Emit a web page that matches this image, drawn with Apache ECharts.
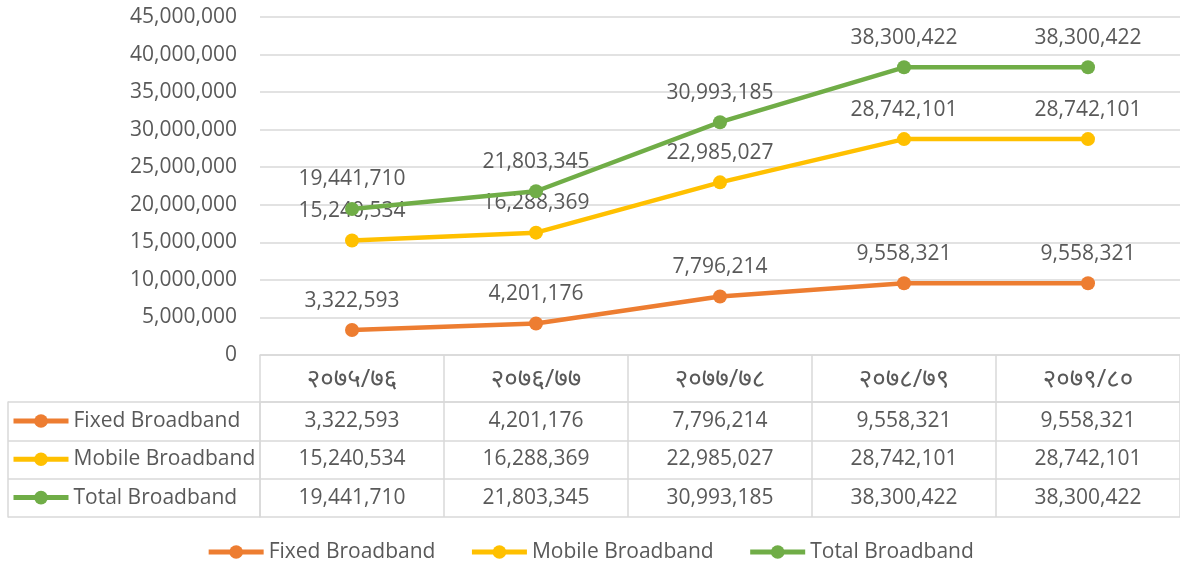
<!DOCTYPE html>
<html>
<head>
<meta charset="utf-8">
<script src="https://cdn.jsdelivr.net/npm/echarts@6/dist/echarts.min.js"></script>
<style>
  html, body { margin: 0; padding: 0; background: #fff; }
  #chart { width: 1180px; height: 568px; }
</style>
</head>
<body>
<div id="chart"></div>
<script>
const categories = ['२०७५/७६', '२०७६/७७', '२०७७/७८', '२०७८/७९', '२०७९/८०']
const seriesNames = ['Fixed Broadband', 'Mobile Broadband', 'Total Broadband']
const fixedBroadband = [3322593, 4201176, 7796214, 9558321, 9558321]
const mobileBroadband = [15240534, 16288369, 22985027, 28742101, 28742101]
const totalBroadband = [19441710, 21803345, 30993185, 38300422, 38300422]
const yMin = 0
const yMax = 45000000
const yStep = 5000000

const colors = ['#ED7D31', '#FFC000', '#70AD47']
const textColor = '#595959'
const borderColor = '#D9D9D9'
const font = '"Open Sans", "Noto Sans Devanagari", "Noto Sans", sans-serif'
const fontSize = 21

const fmt = v => Number(v).toLocaleString('en-US')

const seriesValues = [fixedBroadband, mobileBroadband, totalBroadband]

// table cells: [column, row, value]
const tableCells = []
seriesValues.forEach((values, row) => {
  values.forEach((v, col) => tableCells.push([col, row, v]))
})

const chart = echarts.init(document.getElementById('chart'))

const lineSeries = seriesNames.map((name, i) => ({
  name: name,
  type: 'line',
  xAxisIndex: 0,
  yAxisIndex: 0,
  data: seriesValues[i],
  symbol: 'circle',
  symbolSize: 14,
  lineStyle: { width: 4.5, color: colors[i] },
  itemStyle: { color: colors[i] },
  label: {
    show: true,
    position: 'top',
    distance: 12,
    color: textColor,
    fontSize: fontSize,
    fontFamily: font,
    formatter: p => fmt(p.value)
  },
  z: 3 + i
}))

const legendBase = {
  data: seriesNames,
  padding: 0,
  itemWidth: 55,
  itemHeight: 17,
  lineStyle: { width: 5 },
  textStyle: { color: textColor, fontSize: fontSize, fontFamily: font, lineHeight: 24 }
}

chart.setOption({
  animation: false,
  textStyle: { fontFamily: font },
  grid: [
    { left: 260, right: -6, top: 17, height: 338 },
    { left: 260, right: -6, top: 402, height: 115 }
  ],
  xAxis: [
    {
      gridIndex: 0,
      type: 'category',
      data: categories,
      axisLine: { show: true, lineStyle: { color: borderColor, width: 1.5 } },
      axisTick: { show: false },
      axisLabel: { show: false }
    },
    {
      gridIndex: 1,
      type: 'category',
      data: categories,
      position: 'top',
      axisLine: { show: true, lineStyle: { color: borderColor, width: 1.5 } },
      axisTick: { show: true, length: 47, lineStyle: { color: borderColor, width: 1.5 } },
      axisLabel: { color: textColor, fontSize: 26, fontFamily: font, margin: 9 },
      splitLine: { show: true, lineStyle: { color: borderColor, width: 1.5 } }
    }
  ],
  yAxis: [
    {
      gridIndex: 0,
      type: 'value',
      min: yMin,
      max: yMax,
      interval: yStep,
      axisLine: { show: false },
      axisTick: { show: false },
      axisLabel: { color: textColor, fontSize: fontSize, fontFamily: font, margin: 23, formatter: fmt },
      splitLine: { lineStyle: { color: borderColor, width: 1.5 } }
    },
    {
      gridIndex: 1,
      type: 'category',
      data: seriesNames,
      inverse: true,
      axisLine: { show: true, lineStyle: { color: borderColor, width: 1.5 } },
      axisTick: { show: true, length: 252, lineStyle: { color: borderColor, width: 1.5 } },
      axisLabel: { show: false },
      splitLine: { show: true, lineStyle: { color: borderColor, width: 1.5 } }
    },
    {
      gridIndex: 1,
      type: 'category',
      data: seriesNames,
      inverse: true,
      position: 'left',
      offset: 252,
      axisLine: { show: true, lineStyle: { color: borderColor, width: 1.5 } },
      axisTick: { show: false },
      axisLabel: { show: false }
    }
  ],
  legend: [
    Object.assign({}, legendBase, {
      left: 'center',
      top: 540,
      itemGap: 34
    }),
    Object.assign({}, legendBase, {
      orient: 'vertical',
      left: 11,
      top: 409,
      itemGap: 14.3
    })
  ],
  series: lineSeries.concat([
    {
      name: 'table',
      type: 'custom',
      xAxisIndex: 1,
      yAxisIndex: 1,
      data: tableCells,
      encode: { x: 0, y: 1 },
      renderItem: (params, api) => {
        const pt = api.coord([api.value(0), api.value(1)])
        return {
          type: 'text',
          x: pt[0],
          y: pt[1],
          style: {
            text: fmt(api.value(2)),
            fill: textColor,
            fontSize: fontSize,
            fontFamily: font,
            align: 'center',
            verticalAlign: 'middle'
          }
        }
      }
    }
  ])
})
</script>
</body>
</html>
